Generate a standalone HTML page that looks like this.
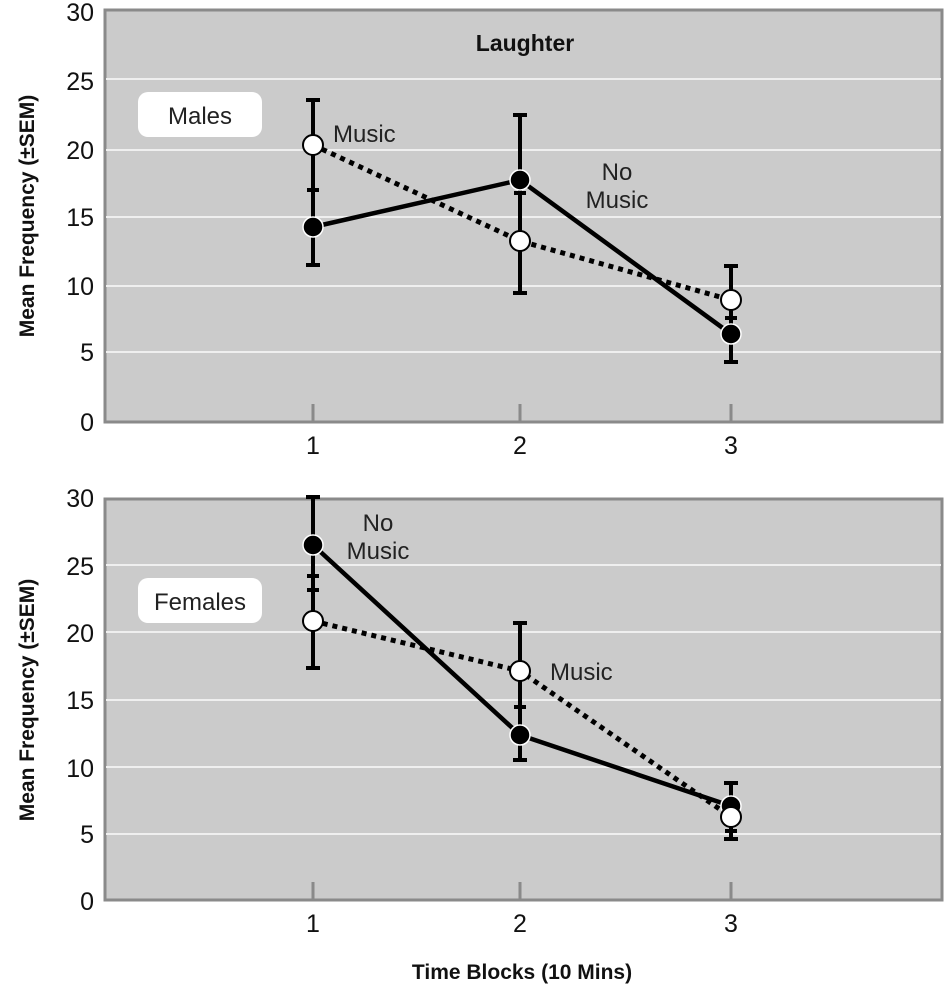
<!DOCTYPE html>
<html><head><style>body{margin:0;background:#fff}svg{display:block}</style></head><body>
<svg width="950" height="989" viewBox="0 0 950 989" xmlns="http://www.w3.org/2000/svg" font-family="Liberation Sans, sans-serif">
<rect x="105" y="10" width="837" height="412" fill="#cbcbcb" stroke="#8a8a8a" stroke-width="3"/>
<g stroke="#efefef" stroke-width="2">
<line x1="106" x2="941" y1="79" y2="79"/><line x1="106" x2="941" y1="150" y2="150"/>
<line x1="106" x2="941" y1="217" y2="217"/><line x1="106" x2="941" y1="286" y2="286"/>
<line x1="106" x2="941" y1="352" y2="352"/></g>
<g stroke="#8a8a8a" stroke-width="3"><line x1="313" x2="313" y1="404" y2="421"/><line x1="520" x2="520" y1="404" y2="421"/><line x1="731" x2="731" y1="404" y2="421"/></g>
<g font-size="25" fill="#111" text-anchor="end"><text x="94" y="21">30</text><text x="94" y="90">25</text><text x="94" y="159">20</text><text x="94" y="226">15</text><text x="94" y="295">10</text><text x="94" y="361">5</text><text x="94" y="431">0</text></g>
<g font-size="25" fill="#111" text-anchor="middle"><text x="313" y="454">1</text><text x="520" y="454">2</text><text x="731" y="454">3</text></g>
<text x="525" y="51" font-size="23" font-weight="bold" text-anchor="middle" fill="#111">Laughter</text>
<rect x="138" y="92" width="124" height="45" rx="10" fill="#fff"/>
<text x="200" y="124" font-size="24" text-anchor="middle" fill="#222">Males</text>
<g stroke="#000" stroke-width="4">
<line x1="313" x2="313" y1="100" y2="265"/><line x1="306" x2="320" y1="100" y2="100"/><line x1="306" x2="320" y1="265" y2="265"/><line x1="307" x2="319" y1="190" y2="190"/>
<line x1="520" x2="520" y1="115" y2="293"/><line x1="513" x2="527" y1="115" y2="115"/><line x1="513" x2="527" y1="293" y2="293"/><line x1="514" x2="526" y1="193" y2="193"/>
<line x1="731" x2="731" y1="266" y2="362"/><line x1="724" x2="738" y1="266" y2="266"/><line x1="724" x2="738" y1="362" y2="362"/><line x1="725" x2="737" y1="318" y2="318"/>
</g>
<polyline points="313,227 520,180 731,334" fill="none" stroke="#000" stroke-width="4.5"/>
<polyline points="313,145 520,241 731,300" fill="none" stroke="#000" stroke-width="5" stroke-dasharray="5,5"/>
<g stroke="#fff" stroke-width="1.5"><circle cx="313" cy="227" r="10"/><circle cx="520" cy="180" r="10"/><circle cx="731" cy="334" r="10"/></g>
<g fill="#fff" stroke="#000" stroke-width="2"><circle cx="313" cy="145" r="10"/><circle cx="520" cy="241" r="10"/><circle cx="731" cy="300" r="10"/></g>
<g font-size="24" fill="#222"><text x="333" y="142">Music</text><text x="617" y="180" text-anchor="middle">No</text><text x="617" y="208" text-anchor="middle">Music</text></g>
<rect x="105" y="499" width="837" height="401" fill="#cbcbcb" stroke="#8a8a8a" stroke-width="3"/>
<g stroke="#efefef" stroke-width="2">
<line x1="106" x2="941" y1="565" y2="565"/><line x1="106" x2="941" y1="632" y2="632"/>
<line x1="106" x2="941" y1="700" y2="700"/><line x1="106" x2="941" y1="767" y2="767"/>
<line x1="106" x2="941" y1="834" y2="834"/></g>
<g stroke="#8a8a8a" stroke-width="3"><line x1="313" x2="313" y1="882" y2="899"/><line x1="520" x2="520" y1="882" y2="899"/><line x1="731" x2="731" y1="882" y2="899"/></g>
<g font-size="25" fill="#111" text-anchor="end"><text x="94" y="507">30</text><text x="94" y="575">25</text><text x="94" y="642">20</text><text x="94" y="709">15</text><text x="94" y="777">10</text><text x="94" y="843">5</text><text x="94" y="910">0</text></g>
<g font-size="25" fill="#111" text-anchor="middle"><text x="313" y="932">1</text><text x="520" y="932">2</text><text x="731" y="932">3</text></g>
<rect x="138" y="578" width="124" height="45" rx="10" fill="#fff"/>
<text x="200" y="610" font-size="24" text-anchor="middle" fill="#222">Females</text>
<g stroke="#000" stroke-width="4">
<line x1="313" x2="313" y1="497" y2="668"/><line x1="306" x2="320" y1="497" y2="497"/><line x1="306" x2="320" y1="668" y2="668"/><line x1="307" x2="319" y1="576" y2="576"/><line x1="307" x2="319" y1="590" y2="590"/>
<line x1="520" x2="520" y1="623" y2="760"/><line x1="513" x2="527" y1="623" y2="623"/><line x1="513" x2="527" y1="760" y2="760"/><line x1="514" x2="526" y1="707" y2="707"/>
<line x1="731" x2="731" y1="783" y2="839"/><line x1="724" x2="738" y1="783" y2="783"/><line x1="724" x2="738" y1="839" y2="839"/><line x1="725" x2="737" y1="831" y2="831"/>
</g>
<polyline points="313,545 520,735 731,806" fill="none" stroke="#000" stroke-width="4.5"/>
<polyline points="313,621 520,671 731,817" fill="none" stroke="#000" stroke-width="5" stroke-dasharray="5,5"/>
<g stroke="#fff" stroke-width="1.5"><circle cx="313" cy="545" r="10"/><circle cx="520" cy="735" r="10"/><circle cx="731" cy="806" r="10"/></g>
<g fill="#fff" stroke="#000" stroke-width="2"><circle cx="313" cy="621" r="10"/><circle cx="520" cy="671" r="10"/><circle cx="731" cy="817" r="10"/></g>
<g font-size="24" fill="#222"><text x="550" y="680">Music</text><text x="378" y="531" text-anchor="middle">No</text><text x="378" y="559" text-anchor="middle">Music</text></g>
<g font-size="21" font-weight="bold" fill="#111" text-anchor="middle">
<text transform="translate(34,216) rotate(-90)">Mean Frequency (±SEM)</text>
<text transform="translate(34,700) rotate(-90)">Mean Frequency (±SEM)</text>
<text x="522" y="979">Time Blocks (10 Mins)</text></g>
</svg>
</body></html>
